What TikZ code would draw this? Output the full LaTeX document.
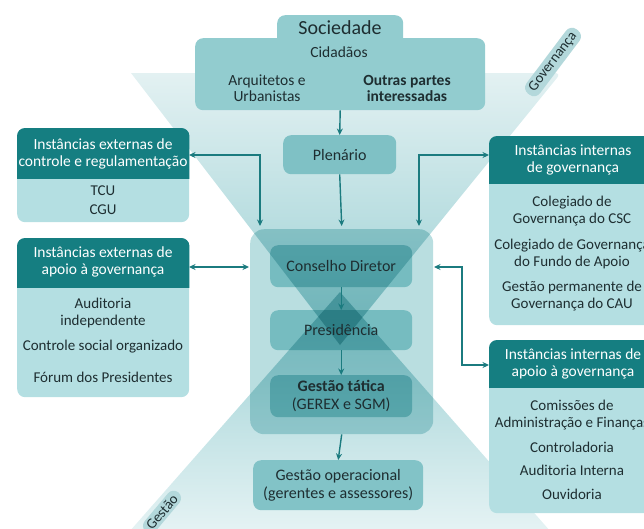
\documentclass[tikz,border=0pt]{standalone}
\usepackage{fontspec}
\setmainfont{Carlito}
\usetikzlibrary{arrows.meta,calc}
\definecolor{hdr}{HTML}{157E81}
\definecolor{bodyc}{HTML}{B4DFE2}
\definecolor{arrc}{HTML}{1B7B7F}
\definecolor{txt}{HTML}{1E2E31}
\definecolor{socc}{HTML}{92CCCF}
\definecolor{plenc}{HTML}{7FC1C5}
\definecolor{opc}{HTML}{82C3C7}
\definecolor{panc}{HTML}{B9DEE0}
\definecolor{inbox}{HTML}{A3D8DB}
\definecolor{fun}{HTML}{96CED2}
\definecolor{funtop}{HTML}{E3F1F2}
\definecolor{funbot}{HTML}{E8F4F5}
\definecolor{pillc}{HTML}{B3D8DB}
\begin{document}
\begin{tikzpicture}[x=1pt,y=-1pt,
  font=\fontsize{15}{17}\selectfont,
  box/.style={fill=bodyc, rounded corners=8pt, anchor=north west, inner sep=0pt},
  hdrtext/.style={text=white, align=center, font=\fontsize{15.5}{17.5}\selectfont},
  btext/.style={text=txt, align=center},
  ctext/.style={text=txt, align=center, font=\fontsize{16}{17.5}\selectfont},
  cbox/.style={rounded corners=8pt, anchor=north west, inner sep=0pt},
  arr/.style={draw=arrc, line width=1.4pt, -{Stealth[length=6.5pt,width=6pt]}},
  darr/.style={draw=arrc, line width=1.4pt, {Stealth[length=6.5pt,width=6pt]}-{Stealth[length=6.5pt,width=6pt]}},
  pill/.style={fill=pillc, rounded corners=7.5pt, text=txt, inner xsep=5pt, inner ysep=2.5pt, font=\fontsize{14.5}{16}\selectfont}
]
\useasboundingbox (0,0) rectangle (644,528);
\clip (0,0) rectangle (644,528);

% funnels
\shade[top color=funtop, bottom color=fun] [rounded corners=6pt] (131,73) -- (561,73) [sharp corners] -- (340,345) -- cycle;
\begin{scope}[blend mode=multiply]
\shade[top color=fun, bottom color=funbot] (340,292) -- (122,540) -- (558,540) -- cycle;
\end{scope}

% pills
\node[pill, rotate=53] (gov) at (553,62) {Governança};
\node[pill, rotate=50] (gest) at (162,512) {Gestão};

% central panel
\begin{scope}[blend mode=multiply]
\node[cbox, rounded corners=14pt, fill=panc, minimum width=183pt, minimum height=205pt] (panel) at (250,229) {};
\node[cbox, fill=inbox, minimum width=142pt, minimum height=42pt] (cons) at (270,245) {};
\node[cbox, fill=inbox, minimum width=142pt, minimum height=40pt] (pres) at (270,310) {};
\node[cbox, fill=inbox, minimum width=142pt, minimum height=42pt] (gtat) at (270,375) {};
\end{scope}
\node[ctext] (consT) at (cons.center) {Conselho Diretor};
\node[ctext] (presT) at (pres.center) {Presidência};
\node[ctext] (gtatT) at (gtat.center) {\textbf{Gestão tática}\\(GEREX e SGM)};

% Sociedade
\node[cbox, fill=socc, minimum width=126pt, minimum height=34pt] (soctab) at (277,15) {};
\node[cbox, fill=socc, minimum width=290pt, minimum height=72pt] (soc) at (195,38) {};
\node[text=txt, font=\fontsize{20}{22}\selectfont] (socT) at (340,28) {Sociedade};
\node[ctext, font=\fontsize{15.5}{16}\selectfont] (cid) at (339,52) {Cidadãos};
\node[ctext, font=\fontsize{15.5}{16}\selectfont] (arq) at (267,88) {Arquitetos e\\Urbanistas};
\node[ctext, font=\fontsize{15.5}{16}\selectfont\bfseries] (outr) at (407,88) {Outras partes\\interessadas};

% Plenario
\node[cbox, fill=plenc, minimum width=113pt, minimum height=39pt] (plen) at (283,135) {};
\node[ctext] (plenT) at (plen.center) {Plenário};

% Gestao operacional
\node[cbox, fill=opc, minimum width=170pt, minimum height=50pt] (gop) at (253,460) {};
\node[ctext] (gopT) at (gop.center) {Gestão operacional\\(gerentes e assessores)};

% left box 1
\node[box, minimum width=172pt, minimum height=94pt] (ext1) at (17,128) {};
\begin{scope}\clip (0,120) rectangle (200,178);
\fill[hdr, rounded corners=8pt] (ext1.north west) rectangle (ext1.south east);
\end{scope}
\node[hdrtext] (ext1h) at (103,154) {Instâncias externas de\\controle e regulamentação};
\node[btext] (tcu) at (103,191) {TCU};
\node[btext] (cgu) at (103,210) {CGU};

% left box 2
\node[box, minimum width=172pt, minimum height=159pt] (ext2) at (17,238) {};
\begin{scope}\clip (0,230) rectangle (200,287);
\fill[hdr, rounded corners=8pt] (ext2.north west) rectangle (ext2.south east);
\end{scope}
\node[hdrtext] (ext2h) at (103,262) {Instâncias externas de\\apoio à governança};
\node[btext] (aud) at (103,313) {Auditoria\\independente};
\node[btext] (csoc) at (103,347) {Controle social organizado};
\node[btext] (forum) at (103,377) {Fórum dos Presidentes};

% right box 3
\node[box, minimum width=172pt, minimum height=189pt] (int1) at (489,136) {};
\begin{scope}\clip (480,130) rectangle (660,183);
\fill[hdr, rounded corners=8pt] (int1.north west) rectangle (int1.south east);
\end{scope}
\node[hdrtext] (int1h) at (573,160) {Instâncias internas\\de governança};
\node[btext] (colcsc) at (572,211) {Colegiado de\\Governança do CSC};
\node[btext] (colfa) at (572,254) {Colegiado de Governança\\do Fundo de Apoio};
\node[btext] (gpg) at (572,296) {Gestão permanente de\\Governança do CAU};

% right box 4
\node[box, minimum width=172pt, minimum height=173pt] (int2) at (489,340) {};
\begin{scope}\clip (480,335) rectangle (660,387);
\fill[hdr, rounded corners=8pt] (int2.north west) rectangle (int2.south east);
\end{scope}
\node[hdrtext] (int2h) at (573,364) {Instâncias internas de\\apoio à governança};
\node[btext] (com) at (572,415) {Comissões de\\Administração e Finanças};
\node[btext] (ctrl) at (572,447) {Controladoria};
\node[btext] (audi) at (572,470) {Auditoria Interna};
\node[btext] (ouv) at (572,494) {Ouvidoria};

% connector coordinates
\coordinate (e1) at (189,155);
\coordinate (d1) at (260,226);
\coordinate (e2) at (189,267);
\coordinate (p2) at (249,267);
\coordinate (d3) at (419,226);
\coordinate (i1) at (489,155);
\coordinate (p4) at (434,267);
\coordinate (i2) at (489,365);

% arrows
\draw[arr] (soc.south) -- (plen.north);
\draw[arr] (plen.south) -- ([yshift=3pt]panel.north);
\draw[arr] (cons.south) -- (pres.north);
\draw[arr] (pres.south) -- (gtat.north);
\draw[arr] (panel.south) -- (gop.north);
\draw[darr] (e1) -| (d1);
\draw[darr] (e2) -- (p2);
\draw[darr] (d3) |- (i1);
\draw[darr] (p4) -- (462,267) |- (i2);
\end{tikzpicture}
\end{document}
